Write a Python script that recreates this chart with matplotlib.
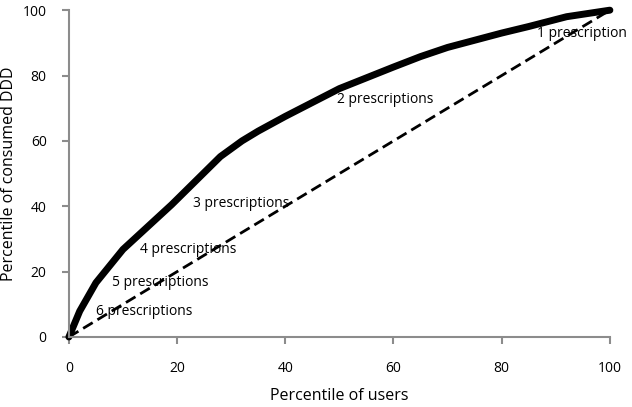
import matplotlib
matplotlib.use("Agg")
import matplotlib.pyplot as plt

plt.rcParams['font.family'] = ['Open Sans', 'DejaVu Sans']

# Lorenz curve of consumed DDD vs users
users_pct = [0, 2, 5, 10, 19, 28, 32, 35, 40, 46, 50, 60, 65, 70, 80, 85, 92, 100]
ddd_pct = [0, 7.9, 16.6, 26.8, 40.5, 55.2, 60, 63, 67.5, 72.6, 76, 82.6, 85.8, 88.6, 93, 95, 98, 100]

# line of equality
equal_x = [0, 100]
equal_y = [0, 100]

# labels for number of prescriptions
label_text = ['1 prescription', '2 prescriptions', '3 prescriptions',
              '4 prescriptions', '5 prescriptions', '6 prescriptions']
label_x = [86.6, 49.6, 23.0, 13.2, 7.9, 5.1]
label_y = [92.8, 72.6, 40.7, 26.8, 16.6, 7.9]

fig = plt.figure(figsize=(6.32, 4.07), dpi=100)
ax = fig.add_axes([0.109, 0.172, 0.856, 0.803])

ax.plot(equal_x, equal_y, color='black', linewidth=2, linestyle=(0, (4, 2)), clip_on=False)
ax.plot(users_pct, ddd_pct, color='black', linewidth=5, solid_capstyle='round',
        solid_joinstyle='round', clip_on=False)

for t, x, y in zip(label_text, label_x, label_y):
    ax.text(x, y, t, fontsize=10, ha='left', va='center', color='black', clip_on=False)

ax.set_xlim(0, 100)
ax.set_ylim(0, 100)
ax.set_xticks([0, 20, 40, 60, 80, 100])
ax.set_yticks([0, 20, 40, 60, 80, 100])

for side in ['top', 'right']:
    ax.spines[side].set_visible(False)
for side in ['left', 'bottom']:
    ax.spines[side].set_color('#8c8c8c')
    ax.spines[side].set_linewidth(1.5)

ax.tick_params(axis='both', direction='out', length=5, width=1.5, color='#8c8c8c',
               labelsize=10, labelcolor='black')
ax.tick_params(axis='x', pad=12)
ax.tick_params(axis='y', pad=11)

ax.set_xlabel('Percentile of users', fontsize=11.5, labelpad=9)
ax.set_ylabel('Percentile of consumed DDD', fontsize=11.5, labelpad=4)

fig.savefig('out.png', dpi=100, facecolor='white')
